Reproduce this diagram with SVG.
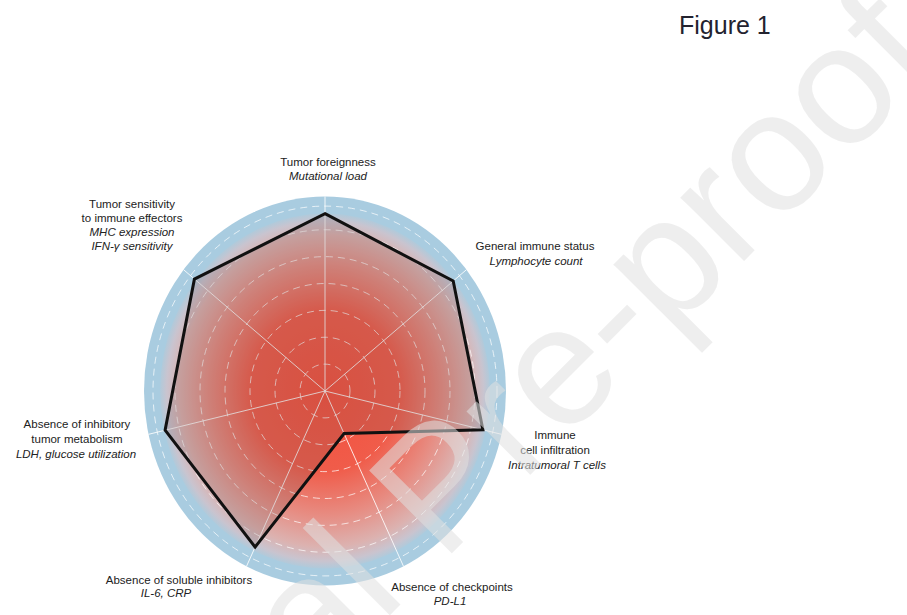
<svg xmlns="http://www.w3.org/2000/svg" width="907" height="615" viewBox="0 0 907 615">
<style>
.lbl{font-family:"Liberation Sans",Arial,sans-serif;font-size:11.5px;fill:#222;text-anchor:middle}
.it{font-style:italic}
.ax{stroke:#fff;stroke-width:1;stroke-opacity:0.85;fill:none}
.ring{stroke:#fff;stroke-width:1;stroke-opacity:0.7;fill:none;stroke-dasharray:7 5}
.title{font-family:"Liberation Sans",Arial,sans-serif;font-size:25px;fill:#23232f}
.wm{font-family:"Liberation Sans",Arial,sans-serif;font-size:170px;fill:#e0e0e0;fill-opacity:0.55}
</style>
<defs>
<radialGradient id="rg" cx="0" cy="0" r="165" gradientUnits="userSpaceOnUse">
<stop offset="0" stop-color="#f4503d"/>
<stop offset="0.45" stop-color="#f05c4a"/>
<stop offset="0.7" stop-color="#e78c82"/>
<stop offset="0.88" stop-color="#dcb2b0"/>
<stop offset="0.96" stop-color="#c9c4cf"/>
<stop offset="1" stop-color="#b0cadb"/>
</radialGradient>
</defs>
<rect width="907" height="615" fill="#fff"/>
<g id="title"><text class="title" x="679" y="34">Figure 1</text></g>
<g id="chart" transform="translate(325,391) scale(1,1.075)">
<circle r="181" fill="#a9cce0"/>
<circle r="165" fill="url(#rg)"/>
<g id="rings">
<circle class="ring" r="25" vector-effect="non-scaling-stroke"/>
<circle class="ring" r="50" vector-effect="non-scaling-stroke"/>
<circle class="ring" r="75" vector-effect="non-scaling-stroke"/>
<circle class="ring" r="100" vector-effect="non-scaling-stroke"/>
<circle class="ring" r="125" vector-effect="non-scaling-stroke"/>
<circle class="ring" r="150" vector-effect="non-scaling-stroke"/>
<circle class="ring" r="172" vector-effect="non-scaling-stroke"/>
</g>
<g id="connectors">
<line class="ax" x1="0" y1="0" x2="0" y2="-181" vector-effect="non-scaling-stroke"/>
<line class="ax" x1="0" y1="0" x2="141.5" y2="-112.9" vector-effect="non-scaling-stroke"/>
<line class="ax" x1="0" y1="0" x2="176.5" y2="40.3" vector-effect="non-scaling-stroke"/>
<line class="ax" x1="0" y1="0" x2="78.5" y2="163.1" vector-effect="non-scaling-stroke"/>
<line class="ax" x1="0" y1="0" x2="-78.5" y2="163.1" vector-effect="non-scaling-stroke"/>
<line class="ax" x1="0" y1="0" x2="-176.5" y2="40.3" vector-effect="non-scaling-stroke"/>
<line class="ax" x1="0" y1="0" x2="-141.5" y2="-112.9" vector-effect="non-scaling-stroke"/>
</g>
<g id="profile">
<polygon points="0,-165 128.2,-102.3 157.9,36 19.1,39.6 -69.9,145.1 -159.9,36.5 -130.6,-104.1" fill="#6e5050" fill-opacity="0.2" stroke="#111" stroke-width="3" stroke-linejoin="miter" vector-effect="non-scaling-stroke"/>
</g>
</g>
<g id="n-foreignness">
<text class="lbl" x="328" y="166">Tumor foreignness</text>
<text class="lbl it" x="328" y="180">Mutational load</text>
</g>
<g id="n-immune-status">
<text class="lbl" x="535" y="250">General immune status</text>
<text class="lbl it" x="536" y="265">Lymphocyte count</text>
</g>
<g id="n-infiltration">
<text class="lbl" x="555" y="439">Immune</text>
<text class="lbl" x="555" y="454">cell infiltration</text>
<text class="lbl it" x="557" y="469">Intratumoral T cells</text>
</g>
<g id="n-checkpoints">
<text class="lbl" x="452" y="591">Absence of checkpoints</text>
<text class="lbl it" x="450" y="605">PD-L1</text>
</g>
<g id="n-soluble">
<text class="lbl" x="179" y="584">Absence of soluble inhibitors</text>
<text class="lbl it" x="166" y="597">IL-6, CRP</text>
</g>
<g id="n-metabolism">
<text class="lbl" x="77" y="428">Absence of inhibitory</text>
<text class="lbl" x="77" y="443">tumor metabolism</text>
<text class="lbl it" x="76" y="458">LDH, glucose utilization</text>
</g>
<g id="n-sensitivity">
<text class="lbl" x="132" y="208">Tumor sensitivity</text>
<text class="lbl" x="132" y="222">to immune effectors</text>
<text class="lbl it" x="132" y="236">MHC expression</text>
<text class="lbl it" x="132" y="250">IFN-γ sensitivity</text>
</g>
<g id="watermark">
<text class="wm" x="943" y="62" text-anchor="end" transform="rotate(-45 943 62)">Journal Pre-proof</text>
</g>
</svg>
